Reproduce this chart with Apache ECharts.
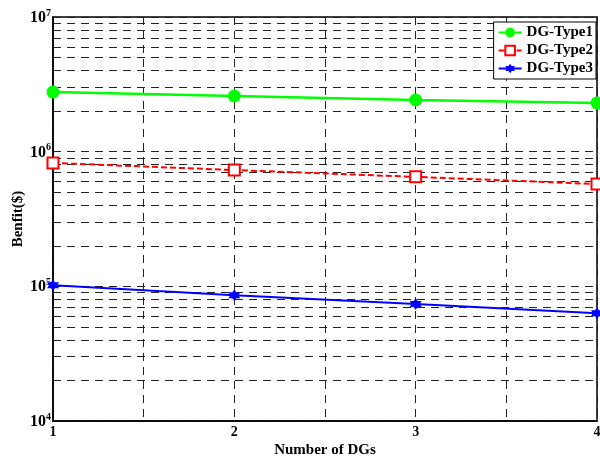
<!DOCTYPE html>
<html><head><meta charset="utf-8">
<script src="https://cdn.jsdelivr.net/npm/echarts@6/dist/echarts.min.js"></script>
<style>html,body{margin:0;padding:0;background:#fff}#c{width:600px;height:460px}</style>
</head><body><div id="c"></div>
<script>
const categories = [1, 2, 3, 4];
const type1 = [2.77e6, 2.59e6, 2.42e6, 2.30e6];
const type2 = [8.25e5, 7.3e5, 6.5e5, 5.75e5];
const type3 = [1.02e5, 8.6e4, 7.4e4, 6.3e4];
const seriesNames = ['DG-Type1', 'DG-Type2', 'DG-Type3'];
const decades = [1e4, 1e5, 1e6];
const minorMultipliers = [2, 3, 4, 5, 6, 7, 8, 9];

const minorValues = [];
decades.forEach(d => minorMultipliers.forEach(m => minorValues.push(m * d)));

const font = 'Liberation Serif';
const starPath = 'path://M50,0 L64,25 L93,25 L79,50 L93,75 L64,75 L50,100 L36,75 L7,75 L21,50 L7,25 L36,25 Z';
const gridStyle = { color: '#222', type: [8, 6], width: 1 };

const pairs = arr => categories.map((c, i) => [c, arr[i]]);

const chart = echarts.init(document.getElementById('c'));
chart.setOption({
  animation: false,
  backgroundColor: '#fff',
  grid: { left: 53, right: 3, top: 17, bottom: 39, containLabel: false, outerBoundsMode: 'none',
    show: true, borderColor: '#000', borderWidth: 1.5, backgroundColor: 'transparent' },
  legend: {
    right: 4, top: 22, orient: 'vertical', itemGap: 3, itemWidth: 23, itemHeight: 12,
    backgroundColor: '#fff', borderColor: '#000', borderWidth: 1, padding: [3, 3, 3, 4],
    z: 20,
    textStyle: { fontFamily: font, fontWeight: 'bold', fontSize: 15, color: '#000' },
    data: seriesNames
  },
  xAxis: {
    type: 'value', min: 1, max: 4, interval: 0.5,
    name: 'Number of DGs', nameLocation: 'middle', nameGap: 22, nameMoveOverlap: false,
    nameTextStyle: { fontFamily: font, fontWeight: 'bold', fontSize: 15, color: '#000' },
    axisLine: { lineStyle: { color: '#000', width: 1.5 } },
    axisTick: { show: false },
    axisLabel: {
      fontFamily: font, fontWeight: 'bold', fontSize: 14, color: '#000', margin: 4,
      formatter: v => (Number.isInteger(v) ? String(v) : '')
    },
    splitLine: { show: true, lineStyle: gridStyle }
  },
  yAxis: {
    type: 'log', logBase: 10, min: 1e4, max: 1e7,
    name: 'Benfit($)', nameLocation: 'middle', nameGap: 27, nameMoveOverlap: false,
    nameTextStyle: { fontFamily: font, fontWeight: 'bold', fontSize: 15, color: '#000' },
    axisLine: { show: true, lineStyle: { color: '#000', width: 1.5 } },
    axisTick: { show: false },
    axisLabel: {
      margin: 2,
      formatter: v => '{b|10}{s|' + Math.round(Math.log10(v)) + '}',
      rich: {
        b: { fontFamily: font, fontWeight: 'bold', fontSize: 16, color: '#000', lineHeight: 18, verticalAlign: 'bottom' },
        s: { fontFamily: font, fontWeight: 'bold', fontSize: 10, color: '#000', lineHeight: 18, verticalAlign: 'top', padding: [0, 0, 8, 0] }
      }
    },
    splitLine: { show: true, lineStyle: gridStyle }
  },
  series: [
    {
      name: seriesNames[0], type: 'line', data: pairs(type1),
      symbol: 'circle', symbolSize: 13,
      lineStyle: { color: '#00ff00', width: 2.5 },
      itemStyle: { color: '#00ff00' },
      markLine: {
        silent: true, symbol: 'none', label: { show: false },
        lineStyle: gridStyle, z: 1,
        data: minorValues.map(v => ({ yAxis: v }))
      },
      z: 5
    },
    {
      name: seriesNames[1], type: 'line', data: pairs(type2),
      symbol: 'rect', symbolSize: 11,
      lineStyle: { color: '#ff0000', width: 2, type: [6, 3] },
      itemStyle: { color: '#fff', borderColor: '#ff0000', borderWidth: 2 },
      z: 5
    },
    {
      name: seriesNames[2], type: 'line', data: pairs(type3),
      symbol: starPath, symbolSize: 12,
      lineStyle: { color: '#0000ff', width: 2 },
      itemStyle: { color: '#0000ff' },
      z: 5
    }
  ]
});
</script>
</body></html>
